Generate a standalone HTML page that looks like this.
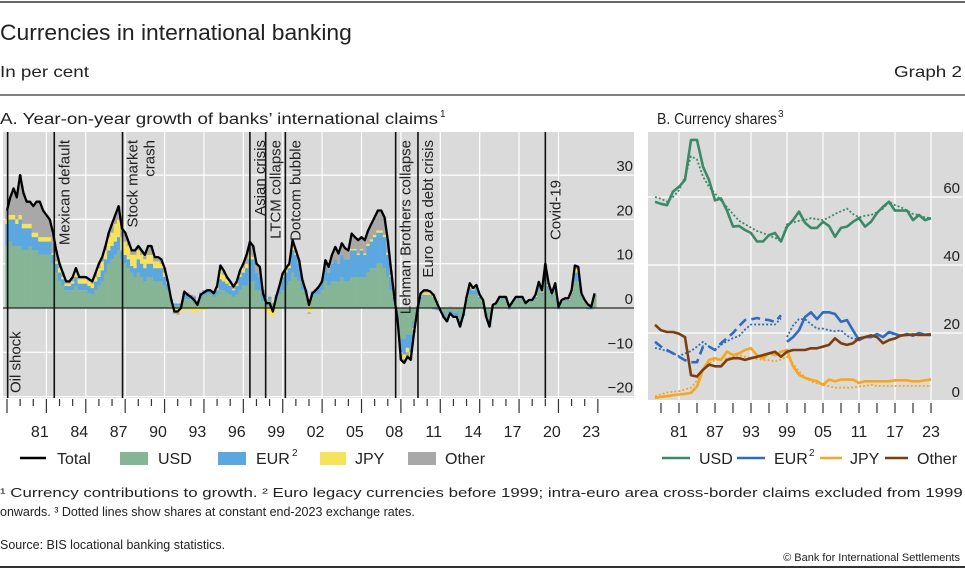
<!DOCTYPE html>
<html><head><meta charset="utf-8"><style>
html,body{margin:0;padding:0;background:#fff;}
svg{display:block;font-family:"Liberation Sans",sans-serif;}
</style></head><body>
<svg id="chart" width="965" height="570" viewBox="0 0 965 570" xmlns="http://www.w3.org/2000/svg">
<line x1="0" y1="2" x2="965" y2="2" stroke="#333" stroke-width="1.5"/>
<text class="fit" data-w="352" x="0" y="40" font-size="22" fill="#222">Currencies in international banking</text>
<text class="fit" data-w="89" x="0" y="77" font-size="16" fill="#222">In per cent</text>
<text class="fit" data-w="68" x="894" y="77" font-size="16" fill="#222">Graph 2</text>
<line x1="0" y1="95" x2="965" y2="95" stroke="#333" stroke-width="1.2"/>
<text class="fit" data-w="438" x="0" y="124" font-size="16" fill="#222">A. Year-on-year growth of banks’ international claims</text>
<text x="440" y="117" font-size="10" fill="#222">1</text>
<text class="fit" data-w="120" x="657" y="124" font-size="16" fill="#222">B. Currency shares</text>
<text x="778" y="117" font-size="10" fill="#222">3</text>

<g id="panelA"></g>
<g id="panelB"></g>

<g font-size="16" fill="#222">
  <g><line x1="20" y1="458" x2="46" y2="458" stroke="#000" stroke-width="2.5"/><text x="57" y="464">Total</text></g>
  <g><rect x="120" y="452" width="28" height="13" fill="#86b596"/><text x="158" y="464">USD</text></g>
  <g><rect x="218" y="452" width="28" height="13" fill="#5ca7e0"/><text x="256" y="464">EUR</text><text x="292" y="456" font-size="10">2</text></g>
  <g><rect x="320" y="452" width="26" height="13" fill="#f7e35a"/><text x="355" y="464">JPY</text></g>
  <g><rect x="408" y="452" width="28" height="13" fill="#a8a8a8"/><text x="445" y="464">Other</text></g>
</g>
<g font-size="16" fill="#222">
  <g><line x1="662" y1="458" x2="690" y2="458" stroke="#3a8a68" stroke-width="2.5"/><text x="699" y="464">USD</text></g>
  <g><line x1="737" y1="458" x2="765" y2="458" stroke="#2f6bbf" stroke-width="2.5"/><text x="774" y="464">EUR</text><text x="809" y="456" font-size="10">2</text></g>
  <g><line x1="820" y1="458" x2="842" y2="458" stroke="#f5a623" stroke-width="2.5"/><text x="850" y="464">JPY</text></g>
  <g><line x1="885" y1="458" x2="908" y2="458" stroke="#7a3e10" stroke-width="2.5"/><text x="917" y="464">Other</text></g>
</g>

<g font-size="13" fill="#222">
  <text class="fit" data-w="963" x="0" y="497">¹ Currency contributions to growth.   ² Euro legacy currencies before 1999; intra-euro area cross-border claims excluded from 1999</text>
  <text x="0" y="516" font-size="12.5">onwards.   ³ Dotted lines show shares at constant end-2023 exchange rates.</text>
  <text x="0" y="549" font-size="12.5">Source: BIS locational banking statistics.</text>
  <text x="960" y="561" font-size="11" text-anchor="end">© Bank for International Settlements</text>
</g>
<line x1="0" y1="567" x2="965" y2="567" stroke="#333" stroke-width="2"/>
</svg>
<script>
// ---------- Panel A data (quarterly, 1979Q1 .. 2023Q4) ----------
const startYearA = 1979;
const totalA = [22,25,27,25, 30,26,24,24, 23,24,24,22, 21,20,17,13, 10,8,6,6, 7,9,7,7, 7,6.5,6,8, 10,11.5,14,17, 19,21,23,18, 17,15,13,13, 14,13,12,14, 14,11.5,11.5,11, 9,6,2,-0.8, -0.8,0,3.7,3, 2.5,1.8,0.7,3, 3.5,4,4,3.3, 5,9.6,8.5,7, 6,4.8,6,8.5, 10,12,14.9,14, 10,9.3,3.3,1.1, 1.1,-0.8,2.5,5, 7.8,9,10,15.3, 13,10.8,6.3,4, 0.7,3.3,4,4.8, 6,10.8,9.3,12, 13.8,12.3,14.6,13.5, 13,16.8,16,15.3, 16,15.3,17.5,19, 20.5,22,22,20.5, 15.3,8.5,2.5,-2.7, -11.7,-12.4,-11,-11.7, -5.6,-0.5,3.3,4, 4,3.7,2.9,1.1, -0.5,-2,-3,-1.2, -2,-2,-4.2,-1.6, 2.5,5.6,4.5,5.2, 3,1.8,-2,-4.2, 0.7,1.1,2.5,2.5, 2.5,0.3,1.4,2.5, 2.5,2.5,1.1,1.8, 1.8,3,5.9,4, 10,5.6,3.3,5.6, 0.3,1.8,2.2,2.2, 4,9.6,9.3,3.3, 1.8,0.8,0.3,3.3];
const usdA = [14,15,14,14, 14,13,13,14, 13,13,12,12, 12,12,10,8, 6,5,4,4, 4,5,4,4, 4,3.5,3,4, 5,6,8,10, 11,12,13,11, 10,9,8,7, 8,7,6,7, 7,6,6,6, 5,4,1.5,0.5, 0.5,0.5,2,2, 2,1.5,1,2, 3,3,3,2.5, 3,4,4,3.5, 3,2.5,3,4, 5,5,6,6, 4,4,1.5,0.5, 2,1,2,3, 4,5,6,8, 7,6,4,3, 1.5,2.5,3,3, 4,6,5,6, 6,6,7,6, 6,7,7,7, 7,7,8,9, 9,10,10,9, 7,4,1.5,-1.5, -7,-7,-6,-6, -3,-0.5,2,2.5, 3,3,2.5,1, 0,-1,-2,-0.5, -1,-1,-2.5,-1, 1.5,3,3,3, 2,1.5,-1,-2.5, 0.5,1,2,2, 2,0.5,1,2, 2,2,1,1.5, 1.5,2,4,3, 6,4,2.5,4, 0.5,1.5,1.5,1.5, 3,6,6,2.5, 1.5,1,0.5,2.5];
const eurA = [5,5,6,5, 6,5,5,4, 3,3,3,3, 3,3,2,2, 2,1.5,1,1, 1.5,2,1.5,1.5, 1.5,1.5,1.5,2, 2,2.5,3,3, 3,3,3,2, 2,2,1.5,2, 3,3,3,3, 3,3,3,3, 2,1.5,0.5,0.5, 0.5,0.5,1,1, 1,1,0.5,1.5, 1,1,0.5,0.5, 1,2.5,2,2, 2,1.5,2,3, 3,4,5,5, 4,3,2,1, 0.5,0,0.5,1.5, 3,3,3,5, 5,4,2,1, 0.5,1,1,1.5, 2,4,3,4, 5,4,5,5, 5,6,6,5, 6,5,6,6, 7,7,7,7, 5,3,1,-0.8, -3,-3.5,-3,-4, -1.5,-0.5,0.5,0.5, 0,0,-0.3,-0.5, -0.5,-1,-1,-1, -1,-1,-1.5,-0.8, 0.5,1.5,1,1.5, 0.5,0,-0.8,-1.5, 0,0,0.3,0.3, 0.3,-0.3,0.2,0.3, 0.3,0.3,0,0.2, 0.2,0.5,1,0.5, 2,1,0.5,1, -0.3,0,0.3,0.3, 0.5,2,2,0.5, 0,-0.3,-0.3,0.5];
const jpyA = [1,1,1,1, 1,1,1,1, 1,1,1,1, 1,1,0.5,0.5, 1,0.5,0.5,0.5, 0.5,1,1,1, 1,1,1,1, 2,2,2,3, 3,4,4,3, 3,3,2.5,3, 2,2,2,2, 2,1.5,1.5,1, 1,0.5,0,-0.8, -1,-1,-0.3,-0.5, -0.5,-1,-1,-0.5, -0.5,-0.3,0,0, 0.5,2,1.5,1, 0.5,0.3,0.5,0.5, 1,1,1,0.5, 0,0,-0.5,-1, -1.5,-2,-0.5,0, 0.3,0.5,0.5,1, 0.5,0.3,0,0, -1,-0.5,-0.3,0, -0.3,0,0,0, 0,0,0,0, 0,0.3,0.3,0.3, 0.3,0.3,0.5,0.5, 0.5,0.5,0.5,0.5, 0.5,0.5,0.2,0, -0.5,-1,-1,-1, -0.5,0,0.3,0.5, 0.5,0.5,0.5,0.3, 0.2,0.2,0.2,0.2, 0.2,0.2,0,0.2, 0.2,0.5,0.3,0.5, 0.3,0.2,0,0, 0.1,0.1,0.2,0.2, 0.1,0.1,0.2,0.2, 0.1,0.1,0.1,0.1, 0.1,0.3,0.5,0.3, 1,0.3,0.2,0.3, 0,0.2,0.2,0.2, 0.2,0.8,0.8,0.2, 0.2,0.1,0.1,0.2];
const otherA = [2,4,6,5, 9,7,5,5, 6,7,8,6, 5,4,4,2.5, 1,1,0.5,0.5, 1,1,0.5,0.5, 0.5,0.5,0.5,1, 1,1,1,1, 2,2,3,2, 2,1,1,1, 1,1,1,2, 2,1,1,1, 1,0,0,-0.5, -0.5,0,0.5,0.5, 0,0.3,0.2,0, 0,0.3,0.5,0.3, 0.5,1,1,0.5, 0.5,0.5,0.5,1, 1,2,3,2.5, 2,2,0.5,0.5, 0.1,0.2,0.5,0.5, 0.5,0.5,0.5,1.3, 0.5,0.5,0.3,0, -0.3,0.3,0.3,0.3, 0.3,0.8,1.3,2, 2.8,2.3,2.6,2.5, 2,3.5,2.7,3, 2.7,3,3,3.5, 4,4.5,4.5,4, 2.8,1,0,-0.4, -1.2,-0.9,-1,-0.7, -0.6,0.5,0.5,0.5, 0.5,0.2,0.2,0.3, -0.2,-0.2,-0.2,0.1, -0.2,-0.2,-0.2,0, 0.3,0.6,0.2,0.2, 0.2,0.1,-0.2,-0.2, 0.1,0,0,0, 0.1,0,0,0, 0.1,0.1,0,0, 0,0.2,0.4,0.2, 1,0.3,0.1,0.3, 0.1,0.1,0.2,0.2, 0.3,0.8,0.5,0.1, 0.1,0,0,0.1];
const yTicksA = [30,20,10,0,-10,-20];
const xLabelsA = ["81","84","87","90","93","96","99","02","05","08","11","14","17","20","23"];
const eventYears = [1979.05,1982.6,1987.8,1997.5,1998.7,2000.2,2008.6,2010.3,2020.0];
const eventLabels = ["Oil shock","Mexican default","Stock market|crash","Asian crisis","LTCM collapse","Dotcom bubble","Lehman Brothers collapse","Euro area debt crisis","Covid-19"];

// ---------- Panel B data (annual, 1977 .. 2023) ----------
const startYearB = 1977;
const usdShare = [58.6,58,57.6,61.6,63,65,76.8,76.8,68.9,65,59,59.6,56,51.3,51.5,50.3,49.4,46.9,46.9,48.8,49.4,46.9,51.3,53.2,55.7,52.4,50.9,50.9,52.7,51.5,48.3,50.9,51.3,52.7,53.8,51.3,52.7,55.3,57.1,58.6,56,56,56,53.2,54.7,53.2,53.8];
const usdShareConst = [60,59.5,58.6,60,62,66,72,71,66,63,61,59,57,55,53,52,51,50,49.4,48.6,48,47,52,52.5,53,53.2,53.8,53.5,53.2,54,55,55.8,56.6,55,54,54.5,54.7,55.5,56.6,58.6,57.6,57,56,55,54.7,54,53.8];
const eurShare = [17.4,16,15,14,13,12,11.4,11.4,16,16,15,17,18.5,20,22,23.8,24,24.4,24,23.8,23.3,25.2,17.4,18.8,20.8,24.7,26.1,24.1,26.1,26.1,25.6,23.3,23.8,20.8,17.9,18.8,18.8,19.7,18.8,20.3,19.7,19.2,19.7,19.2,20,19.5,19.7];
const eurShareConst = [15.6,15.2,14.7,14,13.2,14,14.7,16,17.4,16,15,16.5,17.6,18.5,19.1,21,22.5,22.5,22.5,22.5,22.5,24.3,18.8,22.2,24.1,24.1,22.6,21.3,21.3,20.8,20.5,20.8,19.2,18.3,18.2,18.8,18.8,19.5,18.8,20,19.5,19.2,19.7,19.2,19.8,19.5,19.6];
const jpyShare = [0.9,1.2,1.4,1.7,1.9,2.1,2.4,4.3,9.2,12.1,12.6,12.1,14.5,13.5,14,15,15.5,13.5,12.6,14,13.5,14.5,15,10.2,7.7,6.8,6.3,5.8,4.8,6.3,5.8,6.3,6.3,6.3,5.3,5.8,5.8,5.8,5.8,5.8,6.1,6.1,6.1,5.8,5.8,6.1,6.3];
const jpyShareConst = [1.4,2,2.5,2.7,2.9,3.4,3.9,6,9.2,11,12,12.2,12.6,13,13.5,13,12.6,12.4,12.1,12,11.6,12.2,13,11,8.7,7,5.8,5.2,4.8,4.3,3.9,3.9,3.9,4,4.3,4.4,4.8,4.4,4.4,4.4,4.4,4.4,4.4,4.4,4.4,4.4,4.4];
const otherShare = [22.4,20.8,20.3,20.3,19.8,18.8,7.6,7.2,9.2,10.7,10.2,10.2,12.1,12.6,12.6,12.1,12.6,13,13.5,14,14.5,13,14.5,15,15,15,15.5,15.5,16,16.5,18.4,17,16.5,17,18.4,18.8,19.3,18.8,17,17.9,18.4,19.3,19.4,19.6,19.4,19.4,19.4];
const yTicksB = [60,40,20,0];
const xLabelsB = ["81","87","93","99","05","11","17","23"];

const NS = "http://www.w3.org/2000/svg";
function mk(parent, tag, attrs, txt){
  const e = document.createElementNS(NS, tag);
  for (const k in attrs) e.setAttribute(k, attrs[k]);
  if (txt !== undefined) e.textContent = txt;
  parent.appendChild(e);
  return e;
}

document.querySelectorAll('text.fit').forEach(t=>{
  const target = parseFloat(t.getAttribute('data-w'));
  const x = parseFloat(t.getAttribute('x')), y = parseFloat(t.getAttribute('y'));
  const w0 = t.getComputedTextLength();
  if (w0 > 0) {
    t.setAttribute('x', 0); t.setAttribute('y', 0);
    t.setAttribute('transform', `translate(${x},${y}) scale(${(target/w0).toFixed(4)},1)`);
  }
});

// ---------- Panel A ----------
const gA = document.getElementById('panelA');
const A = {x0:3, x1:634, y0:132, y1:398};
const xA = t => 7 + (t - 1979) * 13.13;
const yA = v => 308 - v * 4.43;
let bg = mk(gA,'rect',{x:A.x0,y:A.y0,width:A.x1-A.x0,height:A.y1-A.y0,fill:'#dadada'});


yTicksA.forEach(v=>{
  let l = mk(gA,'line',{x1:A.x0,x2:A.x1,y1:yA(v),y2:yA(v),stroke:'#fff','stroke-width':1.2});
  
  
});
for (let yr=1982; yr<=2021; yr+=3){
  let l = mk(gA,'line',{x1:xA(yr),x2:xA(yr),y1:A.y0,y2:A.y1,stroke:'#fff','stroke-width':1.2});
  
  
}
const seriesA = [[usdA,'#86b596','usd'],[eurA,'#5ca7e0','eur'],[jpyA,'#f7e35a','jpy'],[otherA,'#a8a8a8','other']];
const qw = 13.13/4;
for (let i=0;i<totalA.length;i++){
  let pos=0, neg=0;
  const t = startYearA + i/4;
  seriesA.forEach(([arr,col,nm])=>{
    const v = arr[i];
    let a,b;
    if (v>=0){a=pos;b=pos+v;pos=b;} else {a=neg;b=neg+v;neg=b;}
    const y1=yA(Math.max(a,b)), y2=yA(Math.min(a,b));
    let r = mk(gA,'rect',{x:xA(t)-qw/2,y:y1,width:qw+0.3,height:Math.max(0,y2-y1),fill:col});
    
    
  });
}
let zl = mk(gA,'line',{x1:A.x0,x2:A.x1,y1:yA(0),y2:yA(0),stroke:'#222','stroke-width':1.3});


eventYears.forEach((yr,k)=>{
  const x = xA(yr);
  let l = mk(gA,'line',{x1:x,x2:x,y1:A.y0,y2:A.y1,stroke:'#111','stroke-width':1.6});
  
  
  const parts = eventLabels[k].split('|');
  parts.forEach((p,j)=>{
    const bx = x + 15 + j*17;
    let attrs;
    if (k===0) attrs = {x:0,y:0,'font-size':15,fill:'#222','text-anchor':'start',transform:`translate(${bx-2},393) rotate(-90)`};
    else if (k===8) attrs = {x:0,y:0,'font-size':15,fill:'#222','text-anchor':'end',transform:`translate(${bx},180) rotate(-90)`};
    else attrs = {x:0,y:0,'font-size':15,fill:'#222','text-anchor':'end',transform:`translate(${bx},140) rotate(-90)`};
    let tx = mk(gA,'text',attrs,p);
    
    
  });
});
let dA = totalA.map((v,i)=>(i?'L':'M')+xA(startYearA+i/4).toFixed(1)+','+yA(v).toFixed(1)).join('');
let tl = mk(gA,'path',{d:dA,fill:'none',stroke:'#000','stroke-width':2.3,'stroke-linejoin':'round'});


yTicksA.forEach(v=>{
  let t = mk(gA,'text',{x:633,y:yA(v)-4,'font-size':15,fill:'#222','text-anchor':'end'},v<0?('\u2212'+(-v)):String(v));
  
  
});
for (let yr=1979; yr<=2024; yr++){
  const major = (yr-1979)%3===0;
  let l = mk(gA,'line',{x1:xA(yr),x2:xA(yr),y1:399,y2:major?413:406,stroke:'#333','stroke-width':1.2});
  
  
}
xLabelsA.forEach((s,k)=>{
  const yr = 1981 + 3*k;
  let t = mk(gA,'text',{x:xA(yr+0.5),y:437,'font-size':16,fill:'#222','text-anchor':'middle'},s);
  
  
});

// ---------- Panel B ----------
const gB = document.getElementById('panelB');
const B = {x0:648, x1:963, y0:132, y1:400};
const xB = t => 679 + (t - 1981) * 6;
const yB = v => 401 - v * 3.4;
let bgB = mk(gB,'rect',{x:B.x0,y:B.y0,width:B.x1-B.x0,height:B.y1-B.y0,fill:'#dadada'});


yTicksB.forEach(v=>{
  if (v===0) return;
  let l = mk(gB,'line',{x1:B.x0,x2:B.x1,y1:yB(v),y2:yB(v),stroke:'#fff','stroke-width':1.2});
  
  
});
for (let yr=1981; yr<=2023; yr+=6){
  let l = mk(gB,'line',{x1:xB(yr),x2:xB(yr),y1:B.y0,y2:B.y1,stroke:'#fff','stroke-width':1.2});
  
  
}
function pathB(arr, from, to){
  let d='';
  for (let i=0;i<arr.length;i++){
    const yr = startYearB+i;
    if (yr<from||yr>to) continue;
    d += (d?'L':'M')+xB(yr).toFixed(1)+','+yB(arr[i]).toFixed(1);
  }
  return d;
}
function drawB(arr,col,dash,name,from,to,w){
  const a = {d:pathB(arr,from,to),fill:'none',stroke:col,'stroke-width':w,'stroke-linejoin':'round'};
  if (dash) a['stroke-dasharray']=dash;
  let p = mk(gB,'path',a);
  
  
}
drawB(usdShareConst,'#3a8a68','2,2','usd-share-constant-fx',1977,2023,1.8);
drawB(eurShareConst,'#2f6bbf','2,2','eur-share-constant-fx-legacy',1977,1998,1.8);
drawB(eurShareConst,'#2f6bbf','2,2','eur-share-constant-fx',1999,2023,1.8);
drawB(jpyShareConst,'#f5a623','2,2','jpy-share-constant-fx',1977,2023,1.8);
drawB(usdShare,'#3a8a68',null,'usd-share-line',1977,2023,2.6);
drawB(eurShare,'#2f6bbf','9,5','eur-legacy-share-line',1977,1998,2.6);
drawB(eurShare,'#2f6bbf',null,'eur-share-line',1999,2023,2.6);
drawB(jpyShare,'#f5a623',null,'jpy-share-line',1977,2023,2.6);
drawB(otherShare,'#7a3e10',null,'other-share-line',1977,2023,2.6);
yTicksB.forEach(v=>{
  let t = mk(gB,'text',{x:960,y:yB(v)-4,'font-size':15,fill:'#222','text-anchor':'end'},String(v));
  
  
});
for (let yr=1978; yr<=2023; yr+=3){
  let l = mk(gB,'line',{x1:xB(yr),x2:xB(yr),y1:403,y2:413,stroke:'#333','stroke-width':1.2});
  
  
}
xLabelsB.forEach((s,k)=>{
  let t = mk(gB,'text',{x:xB(1981+6*k),y:437,'font-size':16,fill:'#222','text-anchor':'middle'},s);
  
  
});
</script>
</body></html>
